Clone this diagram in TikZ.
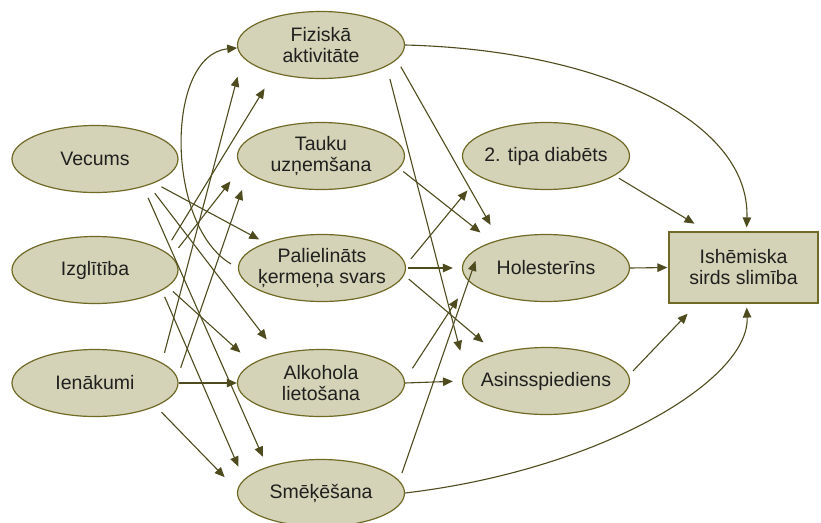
\documentclass[tikz,border=0pt]{standalone}
\usepackage{fontspec}
\setmainfont{Liberation Sans}
\usetikzlibrary{shapes.geometric,arrows.meta,calc}
\definecolor{boxfill}{RGB}{212,211,184}
\definecolor{boxline}{RGB}{112,106,38}
\definecolor{arr}{RGB}{78,76,30}
\definecolor{txt}{RGB}{32,32,30}
\begin{document}
\begin{tikzpicture}[x=1pt,y=-1pt,
  lbl/.style={align=center,text=txt,inner sep=0pt,font=\fontsize{19.5}{21}\selectfont},
  oval/.style={ellipse,draw=boxline,fill=boxfill,line width=1.2pt,minimum width=167pt,minimum height=67pt,inner sep=0pt,label={[lbl]center:#1}},
  box/.style={rectangle,draw=boxline,fill=boxfill,line width=1.2pt,minimum width=149pt,minimum height=71pt,inner sep=0pt,align=center,text=txt,font=\fontsize{19.5}{21}\selectfont},
  link/.style={draw=arr,line width=1.1pt,-{Triangle[length=10pt,width=8.5pt]}}]
\useasboundingbox (0,0) rectangle (821,522);
\fill[white] (0,0) rectangle (821,522);
% left column
\node[oval={Vecums}, minimum width=166pt] (vec) at (95,159) {};
\node[oval={Izglītība}, minimum width=166pt] (izg) at (95,270) {};
\node[oval={Ienākumi}, minimum width=166pt] (ien) at (95,383) {};
% middle column
\node[oval={Fiziskā\\aktivitāte}] (fiz) at (321,45) {};
\node[oval={Tauku\\uzņemšana}] (tau) at (321,156) {};
\node[oval={Palielināts\\ķermeņa svars}] (pal) at (322,268) {};
\node[oval={Alkohola\\lietošana}] (alk) at (321,383) {};
\node[oval={Smēķēšana}] (smk) at (321,493) {};
% right-middle column
\node[oval={2. tipa diabēts}] (dia) at (546,156) {};
\node[oval={Holesterīns}] (hol) at (546,268) {};
\node[oval={Asinsspiediens}] (asi) at (546,381) {};
% outcome
\node[box] (ihd) at (743.5,267.5) {Ishēmiska\\sirds slimība};
% left -> middle
\draw[link, shorten <=8pt, shorten >=7pt] (vec.-22.7) -- (pal.156.1);
\draw[link, shorten <=10pt, shorten >=18pt] (vec.-26.7) -- (alk.146.2);
\draw[link, shorten <=12pt, shorten >=11pt] (vec.-30.5) -- (smk.154.2);
\draw[link, shorten <=13pt, shorten >=18pt] (izg.15.6) -- (fiz.-149.1);
\draw[link, shorten <=11pt, shorten >=18pt] (izg.10.7) -- (tau.-172.9);
\draw[link, shorten <=7pt, shorten >=16pt] (izg.-13.4) -- (alk.164.5);
\draw[link, shorten <=7pt, shorten >=14pt] (izg.-17.6) -- (smk.170.6);
\draw[link, shorten <=10pt, shorten >=20pt] (ien.17.7) -- (fiz.-171);
\draw[link, shorten <=10pt, shorten >=18pt] (ien.4.3) -- (tau.-167.4);
\draw[link] (ien.east) -- (alk.west);
\draw[link, shorten <=8pt, shorten >=18pt] (ien.-21.7) -- (smk.178);
\draw[link, shorten <=8pt] (pal.west) .. controls (165,225) and (165,55) .. (fiz.182);
% middle -> right
\draw[link, shorten >=4pt] (fiz.east) .. controls (600,50) and (750,120) .. ([xshift=3pt]ihd.north);
\draw[link, shorten >=4pt] (smk.east) .. controls (600,470) and (750,380) .. ([xshift=3pt]ihd.south);
\draw[link, shorten <=8pt, shorten >=17pt] (fiz.-11.2) -- (hol.149.7);
\draw[link, shorten <=13pt, shorten >=21pt] (fiz.-18.9) -- (asi.173.8);
\draw[link, shorten <=5pt, shorten >=15pt] (tau.-9.5) -- (hol.154.6);
\draw[link, shorten <=8pt, shorten >=18pt] (pal.2.7) -- (dia.-163.5);
\draw[link, shorten <=2pt, shorten >=9pt] (pal.east) -- (hol.west);
\draw[link, shorten <=6pt, shorten >=17pt] (pal.-5.6) -- (asi.151.6);
\draw[link, shorten <=14pt, shorten >=20pt] (alk.2) -- (hol.-170.4);
\draw[link, shorten >=9pt] (alk.east) -- (asi.west);
\draw[link, shorten <=8pt, shorten >=15pt] (smk.9) -- (hol.162.1);
% right -> outcome
\draw[link, shorten <=5pt, shorten >=15pt] (dia.-16) -- (ihd.135);
\draw[link, shorten >=1pt] (hol.east) -- (ihd.west);
\draw[link, shorten <=6pt, shorten >=14pt] (asi.4.7) -- (ihd.-142.6);
\end{tikzpicture}
\end{document}
